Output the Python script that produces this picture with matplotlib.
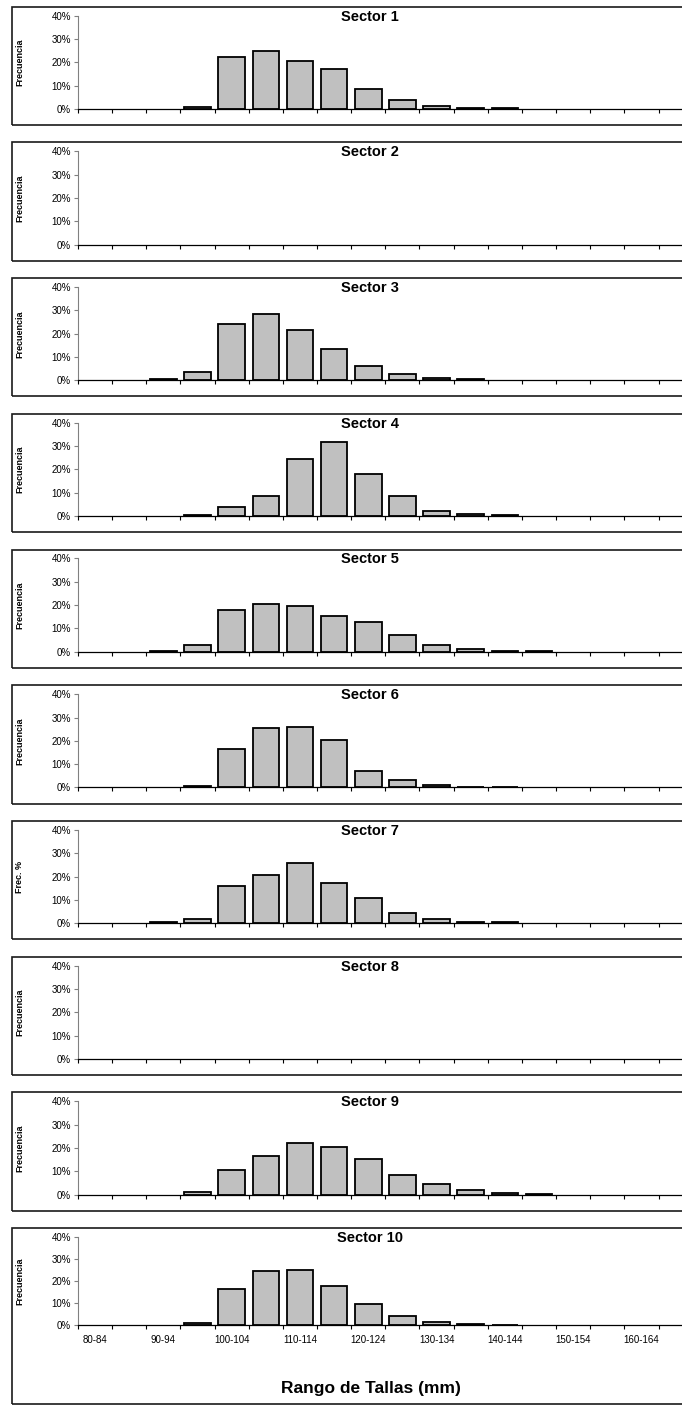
import numpy as np
import matplotlib
matplotlib.use('Agg')
import matplotlib.pyplot as plt
from matplotlib.patches import Rectangle

plt.rcParams['font.family'] = ['Liberation Sans', 'DejaVu Sans']

# categorias de talla (mm)
rangos = ['80-84', '85-89', '90-94', '95-99', '100-104', '105-109', '110-114',
          '115-119', '120-124', '125-129', '130-134', '135-139', '140-144',
          '145-149', '150-154', '155-159', '160-164', '165-169']

# frecuencias (%) por sector
sector1 = [0, 0, 0, 0.9, 22.3, 24.9, 20.4, 17.0, 8.7, 3.9, 1.4, 0.4, 0.4, 0, 0, 0, 0, 0]
sector2 = [0] * 18
sector3 = [0, 0, 0.4, 3.7, 24.0, 28.6, 21.4, 13.4, 6.0, 2.6, 1.0, 0.4, 0, 0, 0, 0, 0, 0]
sector4 = [0, 0, 0, 0.6, 3.9, 8.7, 24.3, 31.7, 17.9, 8.6, 2.4, 0.7, 0.4, 0, 0, 0, 0, 0]
sector5 = [0, 0, 0.3, 2.9, 18.1, 20.4, 19.8, 15.4, 12.6, 7.2, 2.9, 1.1, 0.4, 0.3, 0, 0, 0, 0]
sector6 = [0, 0, 0, 0.5, 16.6, 25.4, 25.8, 20.4, 7.2, 3.3, 1.1, 0.4, 0.3, 0, 0, 0, 0, 0]
sector7 = [0, 0, 0.4, 2.0, 15.8, 20.8, 26.0, 17.2, 11.0, 4.4, 2.0, 0.7, 0.4, 0, 0, 0, 0, 0]
sector8 = [0] * 18
sector9 = [0, 0, 0, 1.0, 10.5, 16.5, 22.2, 20.2, 15.1, 8.5, 4.4, 1.9, 0.9, 0.4, 0, 0, 0, 0]
sector10 = [0, 0, 0, 0.9, 16.3, 24.5, 24.8, 17.8, 9.7, 4.2, 1.5, 0.5, 0.2, 0, 0, 0, 0, 0]

sectores = [sector1, sector2, sector3, sector4, sector5,
            sector6, sector7, sector8, sector9, sector10]
titulos = ['Sector %d' % (i + 1) for i in range(10)]
ylabels = ['Frecuencia'] * 10
ylabels[6] = 'Frec. %'
yticks = [0, 10, 20, 30, 40]

W, H = 682, 1406
fig = plt.figure(figsize=(W / 100, H / 100), dpi=100)

def fx(px):
    return px / W

def fy(py):
    return 1 - py / H

x = np.arange(len(rangos))
x0 = 78
paso = 34.15

for k in range(10):
    top = 6.7 + 135.7 * k
    if k < 9:
        bottom = top + 118.3
        y40 = top + 9
        y0 = top + 102.3
    else:
        bottom = 1404
        y40 = top + 9
        y0 = top + 97

    # marco del grafico
    fig.add_artist(Rectangle((fx(12), fy(bottom)), fx(700 - 12), (bottom - top) / H,
                             transform=fig.transFigure, fill=False, lw=1.2, ec='#1a1a1a'))

    ax = fig.add_axes([fx(x0), fy(y0), fx(paso * len(rangos)), (y0 - y40) / H])
    vals = np.array(sectores[k])
    m = vals > 0
    ax.bar(x[m], vals[m], width=0.78, color='#C0C0C0', edgecolor='black', linewidth=1.3)

    ax.set_xlim(-0.5, len(rangos) - 0.5)
    ax.set_ylim(0, 40)
    ax.set_yticks(yticks)
    ax.set_yticklabels(['%d%%' % v for v in yticks], fontsize=7)
    ax.set_xticks(np.arange(len(rangos) + 1) - 0.5)
    ax.set_xticklabels([])
    ax.tick_params(axis='x', length=3, width=0.8, direction='out')
    ax.tick_params(axis='y', length=3, width=0.8, direction='out', colors='#808080',
                   labelcolor='black', pad=2)
    ax.spines['top'].set_visible(False)
    ax.spines['right'].set_visible(False)
    ax.spines['left'].set_color('#808080')
    ax.spines['left'].set_linewidth(0.8)
    ax.spines['bottom'].set_linewidth(0.9)
    ax.patch.set_alpha(0)

    if k == 9:
        ax.set_xticks(x[::2], minor=True)
        ax.set_xticklabels(rangos[::2], minor=True, fontsize=7)
        ax.tick_params(axis='x', which='minor', length=0, pad=7)

    fig.text(fx(370), fy(y40 + 1), titulos[k], ha='center', va='center',
             fontsize=10.5, fontweight='bold')
    fig.text(fx(20), fy((y40 + y0) / 2), ylabels[k], rotation=90, ha='center',
             va='center', fontsize=6.5, fontweight='bold')

fig.text(fx(371), fy(1389), 'Rango de Tallas (mm)', ha='center', va='center',
         fontsize=12.5, fontweight='bold')

fig.savefig('out.png', dpi=100)
